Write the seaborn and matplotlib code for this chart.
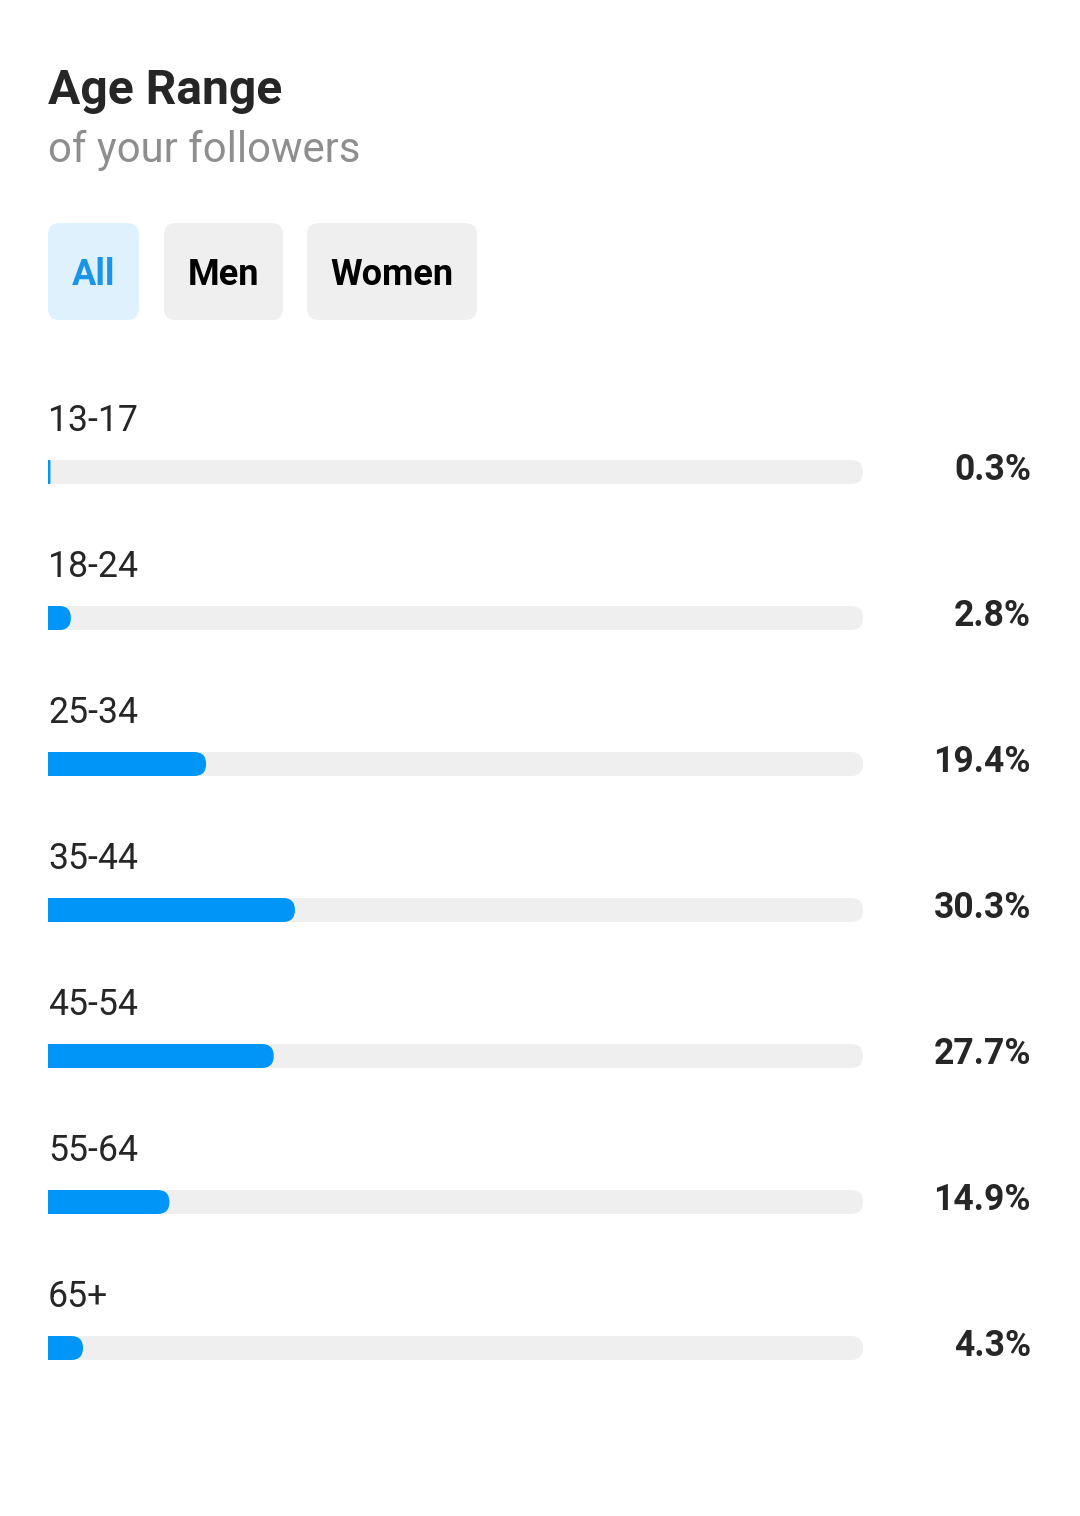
import matplotlib
matplotlib.use("Agg")
import matplotlib.pyplot as plt
import seaborn as sns
from matplotlib.patches import FancyBboxPatch, Rectangle

# ---- data ----
ages = ["13-17", "18-24", "25-34", "35-44", "45-54", "55-64", "65+"]
shares = [0.3, 2.8, 19.4, 30.3, 27.7, 14.9, 4.3]
share_labels = ["0.3%", "2.8%", "19.4%", "30.3%", "27.7%", "14.9%", "4.3%"]
track_full = [100] * len(ages)
title = "Age Range"
subtitle = "of your followers"
tabs = ["All", "Men", "Women"]

sns.set_style("white")
plt.rcParams["font.family"] = ["Roboto", "DejaVu Sans"]

W, H = 1080, 1516
fig = plt.figure(figsize=(W / 100, H / 100), dpi=100)
fig.patch.set_facecolor("white")

# overlay axes in pixel coordinates for header
ov = fig.add_axes([0, 0, 1, 1])
ov.set_xlim(0, W)
ov.set_ylim(H, 0)
ov.axis("off")

ov.text(48, 104, title, fontsize=34.6, fontweight="bold", color="#262626", va="baseline", ha="left")
ov.text(48, 162, subtitle, fontsize=30.2, color="#8e8e8e", va="baseline", ha="left")

tab_boxes = [(48, 139), (164, 283), (307, 477)]
for (x0, x1), name in zip(tab_boxes, tabs):
    active = name == "All"
    bg = "#e0f1fe" if active else "#efefef"
    fg = "#1a95e8" if active else "#000000"
    ov.add_patch(FancyBboxPatch((x0, 223), x1 - x0, 97,
                                boxstyle="round,pad=0,rounding_size=12",
                                facecolor=bg, edgecolor="none"))
    ov.text((x0 + x1) / 2, 285, name, fontsize=26, fontweight="bold", color=fg,
            ha="center", va="baseline")

# bar axes
left_px, right_px = 48, 863
top_px, bot_px = 472 - 73, 1348 + 73
ax = fig.add_axes([left_px / W, 1 - bot_px / H, (right_px - left_px) / W, (bot_px - top_px) / H])
xpx = (right_px - left_px) / 100.0
ypx = 146.0
bar_h = 24 / ypx

def round_patches(ax, patches):
    r_full = 12 / xpx
    aspect = xpx / ypx
    for p in patches:
        x, y = p.get_x(), p.get_y()
        w, h = p.get_width(), p.get_height()
        if w <= 0:
            continue
        r = min(r_full, w / 2)
        fb = FancyBboxPatch((x, y), w, h,
                            boxstyle=f"round,pad=0,rounding_size={r}",
                            mutation_aspect=aspect,
                            facecolor=p.get_facecolor(), edgecolor="none",
                            zorder=p.get_zorder())
        ax.add_patch(fb)
        # keep the left side nearly square
        sq = max(w - r, 0)
        p.set_width(sq)
        p.set_edgecolor("none")

sns.barplot(x=track_full, y=ages, color="#efefef", width=bar_h, ax=ax,
            saturation=1, orient="h")
track_patches = list(ax.patches)
round_patches(ax, track_patches)
n_before = len(ax.patches)
sns.barplot(x=shares, y=ages, color="#0095f6", width=bar_h, ax=ax,
            saturation=1, orient="h")
fill_patches = [p for p in ax.patches[n_before:] if isinstance(p, Rectangle)]
for p in fill_patches:
    p.set_zorder(3)
round_patches(ax, fill_patches)

ax.set_xlim(0, 100)
ax.set_ylim(6.5, -0.5)
ax.axis("off")

pct_x = (1031 - left_px) / xpx
for i, (age, lab) in enumerate(zip(ages, share_labels)):
    ax.text(0, i - 41 / ypx, age, fontsize=25.7, color="#262626",
            ha="left", va="baseline", clip_on=False)
    ax.text(pct_x, i + 8 / ypx, lab, fontsize=25.6, fontweight="bold", color="#262626",
            ha="right", va="baseline", clip_on=False)

fig.savefig("out.png", dpi=100, facecolor="white")
